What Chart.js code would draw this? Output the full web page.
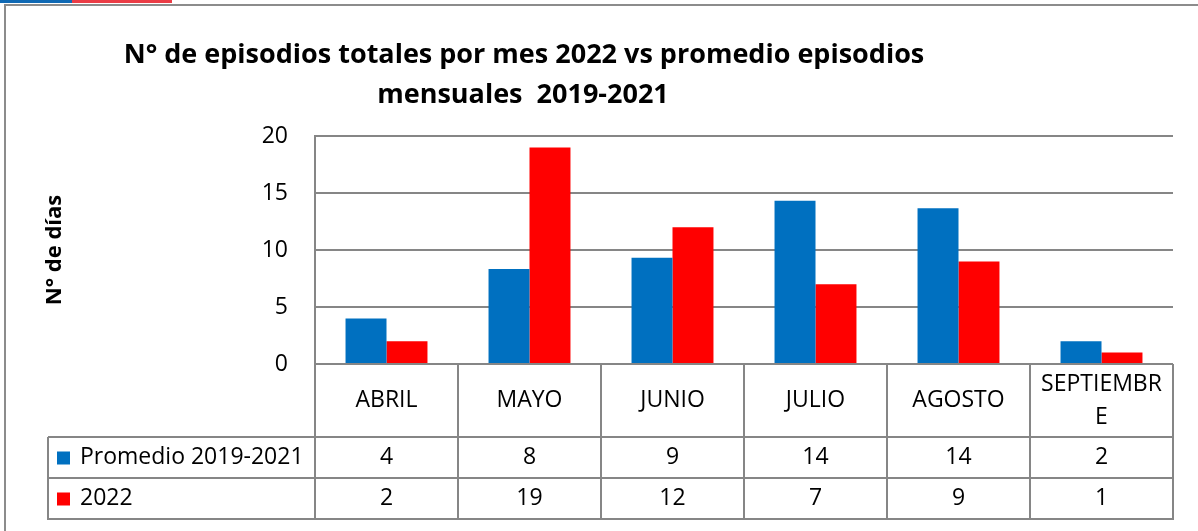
<!DOCTYPE html>
<html>
<head>
<meta charset="utf-8">
<script src="https://cdn.jsdelivr.net/npm/chart.js@4.4.1/dist/chart.umd.min.js"></script>
<style>
  html, body { margin: 0; padding: 0; background: #fff; }
  #wrap { position: relative; width: 1198px; height: 531px; overflow: hidden; }
  #frame { position: absolute; left: 4px; top: 4px; width: 1200px; height: 540px;
           border-left: 2px solid #8c8c8c; border-top: 2px solid #8c8c8c; }
  .stripe { position: absolute; top: 0; height: 3px; }
  canvas { position: absolute; left: 0; top: 0; }
</style>
</head>
<body>
<div id="wrap">
  <div id="frame"></div>
  <div class="stripe" style="left:0;width:72px;background:#0f69b4"></div>
  <div class="stripe" style="left:72px;width:100px;background:#eb3c46"></div>
  <canvas id="chart" width="1198" height="531"></canvas>
</div>
<script>
// datos del gráfico
const categories = ['ABRIL', 'MAYO', 'JUNIO', 'JULIO', 'AGOSTO', 'SEPTIEMBRE'];
const promedio = [4, 8.33, 9.33, 14.33, 13.67, 2];
const episodios2022 = [2, 19, 12, 7, 9, 1];
const seriesNames = ['Promedio 2019-2021', '2022'];
const yTicks = [0, 5, 10, 15, 20];
const titleLines = ['N° de episodios totales por mes 2022 vs promedio episodios', 'mensuales  2019-2021'];

const FONT = '"Open Sans", "DejaVu Sans", sans-serif';
const LINE = '#868686';
const colors = ['#0070c0', '#ff0000'];

// parte el texto por letras cuando no cabe en la celda (como Excel)
function wrapChars(ctx, text, maxW) {
  const lines = [];
  let cur = '';
  for (const ch of text) {
    if (cur && ctx.measureText(cur + ch).width > maxW) {
      lines.push(cur);
      cur = ch;
    } else {
      cur += ch;
    }
  }
  if (cur) lines.push(cur);
  return lines;
}

const tablePlugin = {
  id: 'tablaDatos',
  afterDraw(chart) {
    const { ctx, chartArea: a, scales: { x } } = chart;
    const cw = (a.right - a.left) / categories.length;
    const headBot = a.bottom + 73;
    const rowH = 41;
    const tableLeft = 48;
    const bottom = headBot + rowH * 2;

    ctx.save();
    // título
    ctx.fillStyle = '#000';
    ctx.textAlign = 'center';
    ctx.textBaseline = 'middle';
    ctx.font = 'bold 27px ' + FONT;
    ctx.fillText(titleLines[0], 524, 55);
    ctx.fillText(titleLines[1], 523, 95);

    // líneas de la tabla
    ctx.strokeStyle = LINE;
    ctx.lineWidth = 2;
    ctx.beginPath();
    for (let i = 0; i <= categories.length; i++) {
      const xx = a.left + i * cw;
      ctx.moveTo(xx, a.bottom);
      ctx.lineTo(xx, bottom);
    }
    ctx.moveTo(tableLeft, headBot);
    ctx.lineTo(a.right, headBot);
    ctx.moveTo(tableLeft, headBot + rowH);
    ctx.lineTo(a.right, headBot + rowH);
    ctx.moveTo(tableLeft - 1, bottom);
    ctx.lineTo(a.right + 1, bottom);
    ctx.moveTo(tableLeft, headBot);
    ctx.lineTo(tableLeft, bottom);
    ctx.stroke();

    // encabezados (meses)
    ctx.font = '23px ' + FONT;
    ctx.fillStyle = '#000';
    categories.forEach((c, i) => {
      const cx = x.getPixelForValue(i);
      const lines = wrapChars(ctx, c, cw - 20);
      const lh = 33;
      const midY = (a.bottom + headBot) / 2;
      lines.forEach((l, j) => {
        ctx.fillText(l, cx, midY + (j - (lines.length - 1) / 2) * lh);
      });
    });

    // filas de series
    const data = [promedio, episodios2022];
    data.forEach((vals, r) => {
      const cy = headBot + rowH * r + rowH / 2;
      ctx.fillStyle = colors[r];
      ctx.fillRect(57, cy - 6, 13, 13);
      ctx.fillStyle = '#000';
      ctx.textAlign = 'left';
      ctx.fillText(seriesNames[r], 80, cy);
      ctx.textAlign = 'center';
      vals.forEach((v, i) => {
        ctx.fillText(String(Math.round(v)), x.getPixelForValue(i), cy);
      });
    });
    ctx.restore();
  }
};

new Chart(document.getElementById('chart'), {
  type: 'bar',
  data: {
    labels: categories,
    datasets: [
      { label: seriesNames[0], data: promedio, backgroundColor: colors[0], borderWidth: 0 },
      { label: seriesNames[1], data: episodios2022, backgroundColor: colors[1], borderWidth: 0 }
    ]
  },
  options: {
    responsive: false,
    animation: false,
    devicePixelRatio: 1,
    layout: { padding: { left: 0, top: 136, right: 25, bottom: 167 } },
    datasets: { bar: { categoryPercentage: 0.573, barPercentage: 1 } },
    plugins: { legend: { display: false }, tooltip: { enabled: false }, title: { display: false } },
    scales: {
      x: { display: false },
      y: {
        min: yTicks[0],
        max: yTicks[yTicks.length - 1],
        afterBuildTicks: (s) => { s.ticks = yTicks.map(v => ({ value: v })); },
        ticks: { color: '#000', font: { family: FONT, size: 23 }, padding: 27 },
        grid: { color: LINE, lineWidth: 2, drawTicks: false },
        border: { display: true, color: LINE, width: 2 },
        title: {
          display: true, text: 'N° de días', color: '#000',
          font: { family: FONT, size: 22, weight: 'bold' },
          padding: { top: 42, bottom: 0 }
        },
        afterFit: (s) => { s.width = 315; }
      }
    }
  },
  plugins: [tablePlugin]
});
</script>
</body>
</html>
